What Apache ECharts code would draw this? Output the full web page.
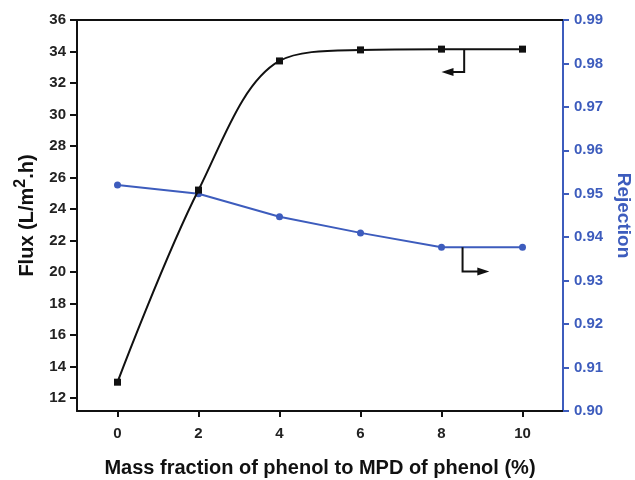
<!DOCTYPE html>
<html><head><meta charset="utf-8">
<script src="https://cdn.jsdelivr.net/npm/echarts@6/dist/echarts.min.js"></script>
<style>html,body{margin:0;padding:0;background:#fff}#c{width:635px;height:480px}</style>
</head><body><div id="c"></div>
<script>
const xValues = [0, 2, 4, 6, 8, 10];
const flux = [13.0, 25.2, 33.4, 34.1, 34.15, 34.15];
const rejection = [0.952, 0.950, 0.9447, 0.941, 0.9377, 0.9377];
const xTicks = [0, 2, 4, 6, 8, 10];
const fluxTicks = [12, 14, 16, 18, 20, 22, 24, 26, 28, 30, 32, 34, 36];

const BLUE = '#3d5cbd';
const FONT = 'Liberation Sans';
const TICK_FS = 15, TITLE_FS = 20;
const chart = echarts.init(document.getElementById('c'));
const option = {
  animation: false,
  grid: { left: 77, right: 72, top: 20, bottom: 69, containLabel: false, outerBoundsMode: 'none' },
  xAxis: [{
    type: 'value', min: -1, max: 11,
    axisLine: { lineStyle: { color: '#111', width: 2 } },
    axisTick: { show: true, customValues: xTicks, length: 6, lineStyle: { color: '#111', width: 2 } },
    axisLabel: { customValues: xTicks, color: '#222', fontFamily: FONT, fontWeight: 'bold', fontSize: TICK_FS, margin: 15 },
    splitLine: { show: false },
    name: 'Mass fraction of phenol to MPD of phenol (%)', nameLocation: 'middle', nameGap: 47,
    nameTextStyle: { color: '#111', fontFamily: FONT, fontWeight: 'bold', fontSize: TITLE_FS }
  }, {
    type: 'value', min: -1, max: 11, position: 'top',
    axisLine: { onZero: false, lineStyle: { color: '#111', width: 2 } },
    axisTick: { show: false }, axisLabel: { show: false }, splitLine: { show: false }
  }],
  yAxis: [{
    type: 'value', min: 11.17, max: 36,
    axisLine: { show: true, onZero: false, lineStyle: { color: '#111', width: 2 } },
    axisTick: { show: true, customValues: fluxTicks, length: 7, lineStyle: { color: '#111', width: 2 } },
    axisLabel: { customValues: fluxTicks, color: '#222', fontFamily: FONT, fontWeight: 'bold', fontSize: TICK_FS, margin: 11 },
    splitLine: { show: false },
    name: 'Flux (L/m{sup|2}.h)', nameLocation: 'middle', nameGap: 36, nameRotate: 90,
    nameTextStyle: { color: '#111', fontFamily: FONT, fontWeight: 'bold', fontSize: TITLE_FS,
      rich: { sup: { fontFamily: FONT, fontWeight: 'bold', fontSize: 16, verticalAlign: 'top', padding: [0, 0, 12, 0], color: '#111' } } }
  }, {
    type: 'value', min: 0.90, max: 0.99, interval: 0.01, position: 'right',
    axisLine: { show: true, onZero: false, lineStyle: { color: BLUE, width: 2 } },
    axisTick: { show: true, length: 6, lineStyle: { color: BLUE, width: 2 } },
    axisLabel: { color: BLUE, fontFamily: FONT, fontWeight: 'bold', fontSize: TICK_FS, margin: 11, formatter: v => v.toFixed(2) },
    splitLine: { show: false },
    name: 'Rejection', nameLocation: 'middle', nameGap: 51, nameRotate: -90,
    nameTextStyle: { color: BLUE, fontFamily: FONT, fontWeight: 'bold', fontSize: 19 }
  }],
  series: [{
    type: 'line', xAxisIndex: 0, yAxisIndex: 0, smooth: 0.35,
    data: xValues.map((x, i) => [x, flux[i]]),
    symbol: 'rect', symbolSize: 7, showAllSymbol: true,
    lineStyle: { color: '#111', width: 2 }, itemStyle: { color: '#111' }, z: 3
  }, {
    type: 'line', xAxisIndex: 0, yAxisIndex: 1,
    data: xValues.map((x, i) => [x, rejection[i]]),
    symbol: 'circle', symbolSize: 7,
    lineStyle: { color: BLUE, width: 2 }, itemStyle: { color: BLUE }, z: 2
  }]
};
chart.setOption(option);

function px(x, y, yi) { return chart.convertToPixel({ xAxisIndex: 0, yAxisIndex: yi }, [x, y]); }
const a1 = px(8.56, 34.15, 0), a2 = px(8.56, 32.7, 0), a3 = px(8.0, 32.7, 0);
const b1 = px(8.52, 0.9377, 1), b2 = px(8.52, 0.9321, 1), b3 = px(9.18, 0.9321, 1);
chart.setOption({
  graphic: [
    { type: 'polyline', shape: { points: [a1, a2, [a3[0] + 8, a3[1]]] }, style: { stroke: '#111', lineWidth: 2, fill: null }, z: 10 },
    { type: 'polygon', shape: { points: [[a3[0], a3[1]], [a3[0] + 12, a3[1] - 4], [a3[0] + 12, a3[1] + 4]] }, style: { fill: '#111' }, z: 10 },
    { type: 'polyline', shape: { points: [b1, b2, [b3[0] - 8, b3[1]]] }, style: { stroke: '#111', lineWidth: 2, fill: null }, z: 10 },
    { type: 'polygon', shape: { points: [[b3[0], b3[1]], [b3[0] - 12, b3[1] - 4], [b3[0] - 12, b3[1] + 4]] }, style: { fill: '#111' }, z: 10 }
  ]
});
</script></body></html>
